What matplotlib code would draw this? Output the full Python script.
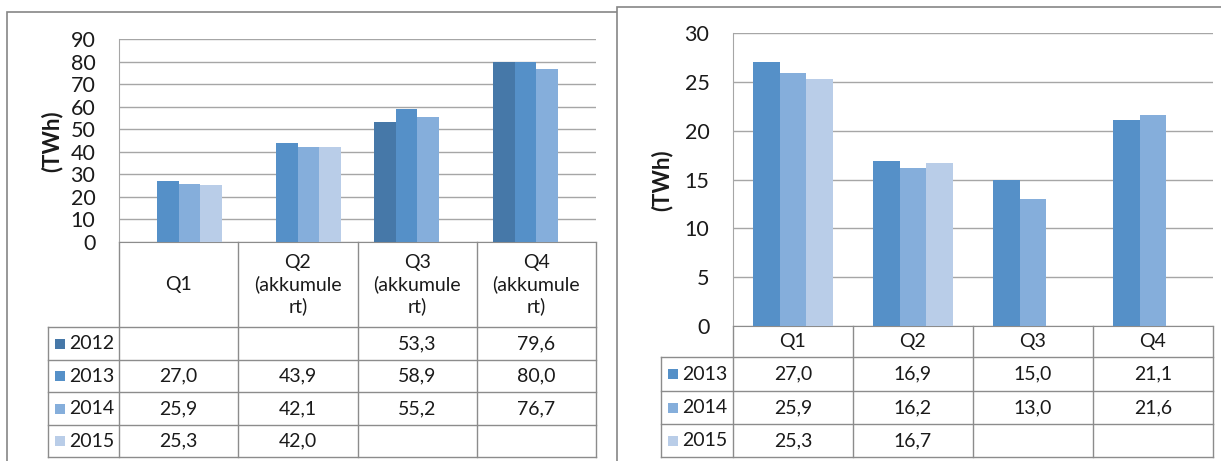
import matplotlib
matplotlib.use("Agg")
import matplotlib.pyplot as plt
import numpy as np
from matplotlib.transforms import Affine2D, blended_transform_factory
from matplotlib.lines import Line2D
from matplotlib.patches import Rectangle

plt.rcParams['font.family'] = ['Lato', 'DejaVu Sans']

# venstre diagram: akkumulert per kvartal
left_cats = ["Q1", "Q2\n(akkumule\nrt)", "Q3\n(akkumule\nrt)", "Q4\n(akkumule\nrt)"]
left_years = ["2012", "2013", "2014", "2015"]
left_2012 = [np.nan, np.nan, 53.3, 79.6]
left_2013 = [27.0, 43.9, 58.9, 80.0]
left_2014 = [25.9, 42.1, 55.2, 76.7]
left_2015 = [25.3, 42.0, np.nan, np.nan]

# høyre diagram: per kvartal
right_cats = ["Q1", "Q2", "Q3", "Q4"]
right_years = ["2013", "2014", "2015"]
right_2013 = [27.0, 16.9, 15.0, 21.1]
right_2014 = [25.9, 16.2, 13.0, 21.6]
right_2015 = [25.3, 16.7, np.nan, np.nan]

colors = {"2012": "#4678A8", "2013": "#5590C8", "2014": "#85AEDB", "2015": "#B9CDE8"}
grid_col = "#A6A6A6"
line_col = "#8C8C8C"
txt_col = "#1a1a1a"
fs = 14

W, H = 1221, 461
fig = plt.figure(figsize=(W / 100, H / 100), dpi=100)
# piksel-koordinater (origo oppe til venstre)
pix = Affine2D().scale(1 / W, -1 / H).translate(0, 1) + fig.transFigure


def fmt(v):
    return "" if np.isnan(v) else f"{v:.1f}".replace(".", ",")


def frame(x0, y0, x1, y1, z):
    fig.add_artist(Rectangle((x0, y0), x1 - x0, y1 - y0, transform=pix,
                             facecolor="white", edgecolor="#868686", lw=1.2, zorder=z))


def draw_chart(ax, cats, years, series, width, ymax, step, rows_y, head_y, key_x, tbl_left):
    n = len(series)
    x = np.arange(len(cats))
    for i, (yr, vals) in enumerate(zip(years, series)):
        ax.bar(x + (i - (n - 1) / 2) * width, vals, width, color=colors[yr], zorder=3)
    ax.set_xlim(-0.5, len(cats) - 0.5)
    ax.set_ylim(0, ymax)
    ax.set_yticks(np.arange(0, ymax + 1, step))
    ax.set_xticks([])
    ax.yaxis.grid(True, color=grid_col, lw=1.0)
    ax.set_axisbelow(True)
    ax.patch.set_alpha(0)
    for s in ["top", "right"]:
        ax.spines[s].set_visible(False)
    ax.spines["left"].set_color(grid_col)
    ax.spines["bottom"].set_color(line_col)
    ax.tick_params(axis="y", length=0, pad=17, labelsize=15.5, labelcolor=txt_col)

    tr = blended_transform_factory(ax.transData, pix)
    top = rows_y[0]
    x_lo, x_hi = -0.5, len(cats) - 0.5
    # vertikale linjer i tabellen
    for b in np.arange(x_lo, x_hi + 1):
        ax.add_artist(Line2D([b, b], [head_y, rows_y[-1]], transform=tr,
                             color=line_col, lw=1.0, clip_on=False))
    fig.add_artist(Line2D([tbl_left, tbl_left], [top, rows_y[-1]], transform=pix,
                          color=line_col, lw=1.0))
    # horisontale linjer
    x_end = (ax.transData + pix.inverted()).transform((x_hi, 0))[0]
    for yy in rows_y:
        fig.add_artist(Line2D([tbl_left, x_end], [yy, yy], transform=pix,
                              color=line_col, lw=1.0))
    # overskrifter
    for i, c in enumerate(cats):
        ax.text(i, (head_y + top) / 2, c, transform=tr, ha="center", va="center",
                fontsize=fs, linespacing=1.3, color=txt_col)
    # rader
    for r, (yr, vals) in enumerate(zip(years, series)):
        yc = (rows_y[r] + rows_y[r + 1]) / 2
        fig.add_artist(Rectangle((key_x, yc - 5), 10, 10, transform=pix,
                                 facecolor=colors[yr], edgecolor="none"))
        fig.text(key_x + 14, yc, yr, transform=pix, ha="left", va="center",
                 fontsize=fs, color=txt_col)
        for i, v in enumerate(vals):
            ax.text(i, yc, fmt(v), transform=tr, ha="center", va="center",
                    fontsize=fs, color=txt_col)


# rammer rundt diagrammene
frame(7, 12, 640, 470, -2)
frame(617, 7, 1235, 470, -1)

axL = fig.add_axes([119 / W, 1 - 242 / H, (596 - 119) / W, (242 - 39) / H])
draw_chart(axL, left_cats, left_years, [left_2012, left_2013, left_2014, left_2015],
           0.18, 90, 10, [327, 360, 392, 425, 457], 242, 55, 48)
fig.text(52, 141, "(TWh)", transform=pix, rotation=90, ha="center", va="center",
         fontsize=16, fontweight="bold", color=txt_col)

axR = fig.add_axes([733 / W, 1 - 326 / H, (1213 - 733) / W, (326 - 33) / H])
draw_chart(axR, right_cats, right_years, [right_2013, right_2014, right_2015],
           0.223, 30, 5, [357, 391, 424, 457], 326, 668, 661)
fig.text(662, 180, "(TWh)", transform=pix, rotation=90, ha="center", va="center",
         fontsize=16, fontweight="bold", color=txt_col)

fig.savefig("out.png", dpi=100)
